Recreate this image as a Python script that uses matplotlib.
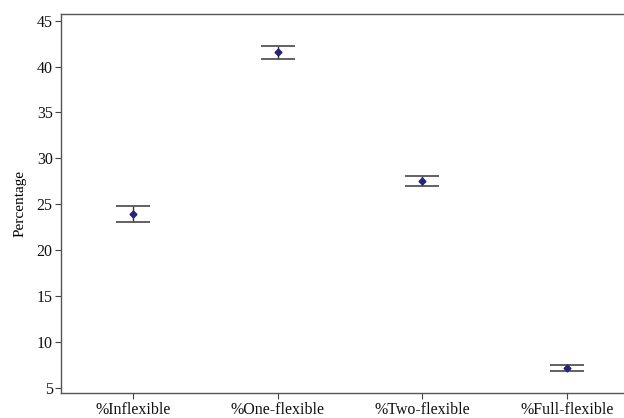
import numpy as np
import matplotlib.pyplot as plt

# interval plot: mean with lower / upper bounds
categories = ["%Inflexible", "%One-flexible", "%Two-flexible", "%Full-flexible"]
means = [23.98, 41.56, 27.50, 7.13]
lower = [23.10, 40.88, 27.00, 6.80]
upper = [24.82, 42.24, 28.12, 7.46]

plt.rcParams['font.family'] = ['Liberation Serif', 'DejaVu Serif']

fig = plt.figure(figsize=(6.24, 4.18), dpi=100)
# axes runs past the right border (original picture is cropped there)
ax = fig.add_axes([61/624, 24.7/418, 578/624, 379/418])

x = np.arange(1, len(categories) + 1)
m = np.array(means)
yerr = [m - np.array(lower), np.array(upper) - m]

eb = ax.errorbar(x, m, yerr=yerr, fmt='D', color='#24247a', markersize=3.5,
                 ecolor='#333333', elinewidth=1.0, capsize=12, capthick=1.3)
for cap in eb[1]:
    cap.set_color('#555555')
    cap.set_markeredgecolor('#555555')

ax.set_xlim(0.5, 4.5)
ax.set_ylim(4.4, 45.7)
ax.set_yticks(np.arange(5, 46, 5))
ax.set_xticks(x)
ax.set_xticklabels(categories)
ax.set_ylabel("Percentage", fontsize=11, labelpad=7)

for s in ax.spines.values():
    s.set_color('#555555')
    s.set_linewidth(1.0)
ax.tick_params(axis='both', labelsize=11.5, length=4, width=0.8, color='#444444',
               labelcolor='#111111', pad=2)

fig.savefig("out.png", dpi=100)
